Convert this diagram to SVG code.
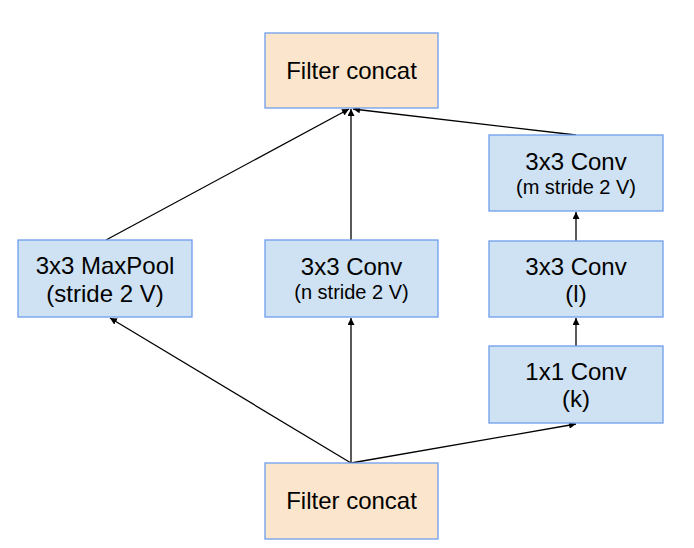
<svg xmlns="http://www.w3.org/2000/svg" width="694" height="548" viewBox="0 0 694 548">
<style>
.b{fill:#cfe2f3;stroke:#6d9eeb;stroke-width:1.3}
.p{fill:#fce5cd;stroke:#6d9eeb;stroke-width:1.3}
text{font-family:"Liberation Sans",Arial,sans-serif;fill:#000;text-anchor:middle}
.l{font-size:24px}
.s{font-size:20px}
.c line{stroke:#000;stroke-width:1.3;marker-end:url(#a)}
</style>
<defs>
<marker id="a" viewBox="0 0 10 10" refX="10" refY="5" markerWidth="7" markerHeight="7" markerUnits="userSpaceOnUse" orient="auto">
<path d="M0,0 L10,5 L0,10 z" fill="#000"/>
</marker>
</defs>
<rect width="694" height="548" fill="#fff"/>
<g class="c">
<line x1="351" y1="463" x2="110" y2="318"/>
<line x1="351" y1="463" x2="351" y2="318"/>
<line x1="351" y1="463" x2="576" y2="424"/>
<line x1="576" y1="346" x2="576" y2="318"/>
<line x1="576" y1="241" x2="576" y2="212"/>
<line x1="106" y1="240" x2="349" y2="109"/>
<line x1="351" y1="240" x2="351" y2="109"/>
<line x1="576" y1="135" x2="353" y2="109"/>
</g>
<g id="concat_top">
<rect class="p" x="265" y="33" width="173" height="75"/>
<text class="l" x="351.5" y="79">Filter concat</text>
</g>
<g id="maxpool">
<rect class="b" x="18" y="240" width="174" height="77"/>
<text class="l" x="105" y="274">3x3 MaxPool</text>
<text class="l" x="105" y="302">(stride 2 V)</text>
</g>
<g id="conv_n">
<rect class="b" x="265" y="240" width="173" height="77"/>
<text class="l" x="351.5" y="275">3x3 Conv</text>
<text class="s" x="351.5" y="299">(n stride 2 V)</text>
</g>
<g id="conv_m">
<rect class="b" x="489" y="135" width="174" height="76"/>
<text class="l" x="576" y="170">3x3 Conv</text>
<text class="s" x="576" y="194">(m stride 2 V)</text>
</g>
<g id="conv_l">
<rect class="b" x="489" y="241" width="174" height="76"/>
<text class="l" x="576" y="275">3x3 Conv</text>
<text class="l" x="576" y="302">(l)</text>
</g>
<g id="conv_k">
<rect class="b" x="489" y="346" width="174" height="77"/>
<text class="l" x="576" y="380">1x1 Conv</text>
<text class="l" x="576" y="407">(k)</text>
</g>
<g id="concat_bottom">
<rect class="p" x="265" y="463" width="173" height="76"/>
<text class="l" x="351.5" y="509">Filter concat</text>
</g>
</svg>
